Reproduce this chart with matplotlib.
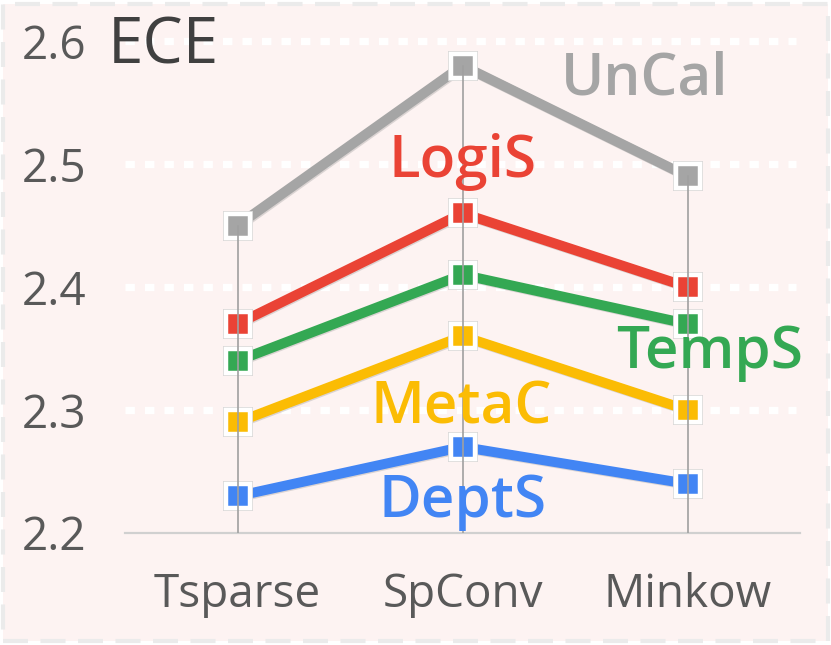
import matplotlib
matplotlib.use("Agg")
import matplotlib.pyplot as plt
import matplotlib.patheffects as pe
from matplotlib.patches import Rectangle

categories = ["Tsparse", "SpConv", "Minkow"]
series_names = ["UnCal", "LogiS", "TempS", "MetaC", "DeptS"]
uncal = [2.45, 2.58, 2.49]
logis = [2.37, 2.46, 2.40]
temps = [2.34, 2.41, 2.37]
metac = [2.29, 2.36, 2.30]
depts = [2.23, 2.27, 2.24]
yticks = [2.2, 2.3, 2.4, 2.5, 2.6]
ytick_labels = ["2.2", "2.3", "2.4", "2.5", "2.6"]

colors = ["#A5A5A5", "#EA4335", "#34A853", "#FBBC04", "#4285F4"]
values = [uncal, logis, temps, metac, depts]
label_pos = [(1.81, 2.569), (1.0, 2.502), (2.1, 2.346), (0.996, 2.301), (1.0, 2.225)]

plt.rcParams['font.family'] = ['Open Sans', 'DejaVu Sans']

W, H = 831, 645
fig = plt.figure(figsize=(W / 100, H / 100), dpi=100)
fig.patch.set_facecolor("white")
fig.patches.append(Rectangle((3 / W, 4 / H), (W - 6) / W, (H - 8) / H,
                             transform=fig.transFigure, facecolor="#FDF3F2",
                             edgecolor="#EBEBEB", lw=3, linestyle=(0, (6, 3)),
                             zorder=-5))

ax = fig.add_axes([125 / W, (645 - 533) / H, 675 / W, 528 / H])
ax.set_zorder(2)
ax.set_facecolor("none")
ax.set_xlim(-0.5, 2.5)
ax.set_ylim(2.2, 2.6293)
x = list(range(len(categories)))

# grid
for yv in yticks[1:]:
    ax.plot([-0.5, 2.48], [yv, yv], color="white", lw=5.2,
            linestyle=(0, (1.3, 1.4)), zorder=1, solid_capstyle="butt")

for s in ["top", "right", "left"]:
    ax.spines[s].set_visible(False)
ax.spines["bottom"].set_color("#D0D0D0")
ax.spines["bottom"].set_linewidth(1.6)

shadow = [pe.SimpleLineShadow(offset=(0.8, -0.8), shadow_color="#999999", alpha=0.35), pe.Normal()]
for vals, c in zip(values, colors):
    ax.plot(x, vals, color=c, lw=7.2, zorder=3, solid_capstyle="butt",
            path_effects=shadow)
for vals, c in zip(values, colors):
    ax.plot(x, vals, linestyle="none", marker="s", ms=22, mfc="#D5D5D5",
            mec="#D5D5D5", mew=0, zorder=4, alpha=0.9)
    ax.plot(x, vals, linestyle="none", marker="s", ms=17.3, mfc=c,
            mec="white", mew=3.2, zorder=5)

# drop lines
for i in x:
    top = max(v[i] for v in values)
    ax.plot([i, i], [2.2, top], color="#A0A0A0", lw=1.2, zorder=6)

for name, c, (lx, ly) in zip(series_names, colors, label_pos):
    ax.text(lx, ly, name, color=c, fontsize=42, fontweight="semibold",
            ha="center", va="center", zorder=7)

ax.set_xticks(x)
ax.set_xticklabels(categories)
ax.set_yticks(yticks)
ax.set_yticklabels(ytick_labels)
ax.tick_params(axis="both", length=0, labelsize=33, labelcolor="#595959")
ax.tick_params(axis="x", pad=28)
ax.tick_params(axis="y", pad=28)

fig.text(108 / W, (645 - 63) / H, "ECE", fontsize=46, color="#404040",
         ha="left", va="baseline")

fig.savefig("out.png", dpi=100, facecolor=fig.get_facecolor())
